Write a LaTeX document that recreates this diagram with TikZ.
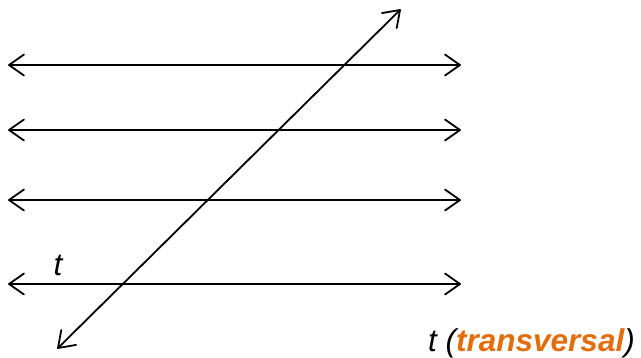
\documentclass[tikz,border=0pt]{standalone}
\usepackage{fontspec}
\setmainfont{Liberation Sans}
\usetikzlibrary{calc}
\definecolor{torange}{HTML}{E46C0A}
\tikzset{
  lineline/.style={line width=1.8pt},
  lbl/.style={font=\fontsize{31.5}{36}\selectfont\itshape, inner sep=0pt}
}
\newcommand{\vtip}[2]{% tip at #1, line comes from #2
  \draw[lineline, line join=round, line cap=round]
    ($(#1)!15pt!(#2)!10.5pt!90:(#2)$) -- (#1) -- ($(#1)!15pt!(#2)!10.5pt!-90:(#2)$);
}
\begin{document}
\begin{tikzpicture}[x=1pt,y=-1pt]
\useasboundingbox (0,0) rectangle (641,357);
\foreach \n/\y in {a/65,b/130,c/200,d/284}{
  \coordinate (\n L) at (9,\y);
  \coordinate (\n R) at (460,\y);
  \draw[lineline] (\n L) -- (\n R);
  \vtip{\n L}{\n R}
  \vtip{\n R}{\n L}
}
\coordinate (tB) at (58,348);
\coordinate (tT) at (400,10);
\draw[lineline] (tB) -- (tT);
\vtip{tB}{tT}
\vtip{tT}{tB}
\node[lbl, anchor=base] (tl) at (58,275) {t};
\node[lbl, anchor=base west] (tt) at (428,351) {t (\textcolor{torange}{\textbf{transversal}})};
\end{tikzpicture}
\end{document}
